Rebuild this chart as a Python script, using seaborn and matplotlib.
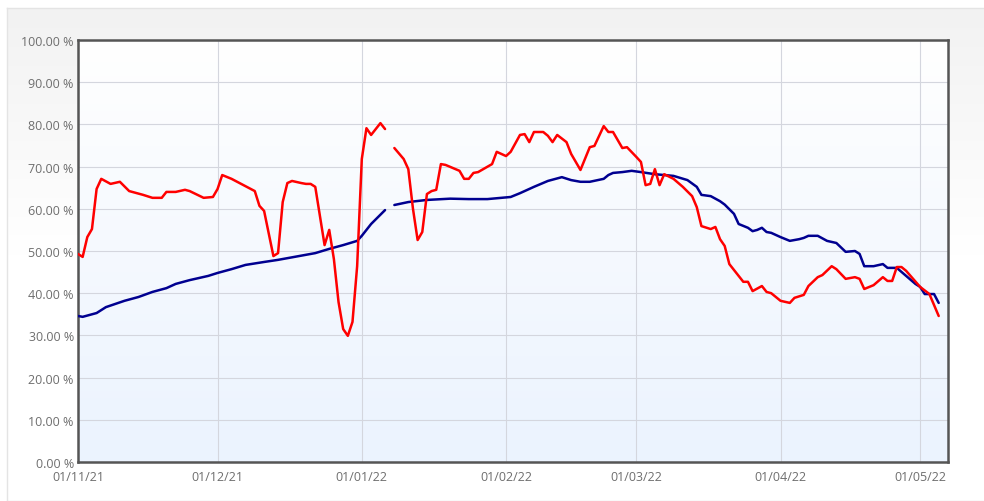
import numpy as np
import pandas as pd
import seaborn as sns
import matplotlib.pyplot as plt
import matplotlib.dates as mdates
from matplotlib.colors import LinearSegmentedColormap

# values (days counted from 01/11/21, value in %)
red_days = [0, 1, 2, 3, 4, 5, 7, 9, 11, 14, 16, 18, 19, 21, 23, 24, 27, 29, 30, 31,
            33, 38, 39, 40, 42, 43, 44, 45, 46, 48, 49, 50, 51, 53, 54, 55, 56, 57, 58, 59,
            60, 61, 62, 63, 65, 66, 67, 68, 70, 71, 72, 73, 74, 75, 76, 77, 78, 79, 82, 83,
            84, 85, 86, 89, 90, 92, 93, 95, 96, 97, 98, 100, 101, 102, 103, 105, 106, 108, 110, 111,
            113, 114, 115, 117, 118, 120, 121, 122, 123, 124, 125, 126, 128, 130, 132, 133, 134, 136, 137, 138,
            139, 140, 143, 144, 145, 147, 148, 149, 151, 153, 154, 156, 157, 159, 160, 162, 163, 165, 167, 168,
            169, 171, 173, 174, 175, 176, 177, 178, 181, 183, 185]
red_vals = [49.3, 48.6, 53.3, 55.2, 64.7, 67.1, 65.9, 66.4, 64.2, 63.3, 62.6, 62.6, 64.0, 64.0, 64.5, 64.2, 62.6, 62.8, 64.7, 68.0,
            67.1, 64.2, 60.7, 59.5, 48.8, 49.5, 61.6, 66.1, 66.6, 66.1, 65.9, 65.9, 65.2, 51.4, 55.0, 48.1, 37.9, 31.5, 29.9, 33.2,
            46.4, 71.8, 79.1, 77.5, 80.3, 78.9, np.nan, 74.4, 71.8, 69.4, 60.0, 52.6, 54.5, 63.5, 64.2, 64.5, 70.6, 70.4, 69.0, 67.1,
            67.1, 68.5, 68.7, 70.6, 73.5, 72.5, 73.5, 77.5, 77.7, 75.8, 78.2, 78.2, 77.3, 75.8, 77.5, 75.8, 73.0, 69.2, 74.6, 74.9,
            79.6, 78.2, 78.2, 74.4, 74.6, 72.3, 71.1, 65.6, 65.9, 69.4, 65.6, 68.2, 67.1, 65.2, 63.0, 60.4, 55.9, 55.2, 55.7, 52.8,
            51.2, 46.9, 42.7, 42.7, 40.5, 41.7, 40.3, 40.0, 38.2, 37.7, 38.9, 39.6, 41.7, 43.8, 44.3, 46.4, 45.7, 43.4, 43.8, 43.4,
            41.0, 41.9, 43.8, 42.9, 42.9, 46.2, 46.2, 45.3, 41.5, 39.8, 34.6]

blue_days = [0, 1, 4, 6, 10, 13, 16, 19, 21, 24, 28, 30, 33, 36, 40, 43, 45, 49, 51, 54,
             57, 60, 61, 63, 66, 67, 68, 71, 75, 80, 84, 88, 91, 93, 95, 97, 98, 101, 104, 106,
             108, 110, 113, 114, 115, 117, 119, 121, 124, 128, 131, 133, 134, 136, 138, 139, 141, 142, 144, 145,
             146, 147, 148, 149, 151, 153, 155, 156, 157, 159, 161, 163, 165, 167, 168, 169, 171, 173, 174, 176,
             178, 180, 181, 182, 184, 185]
blue_vals = [34.6, 34.4, 35.3, 36.7, 38.2, 39.1, 40.3, 41.2, 42.2, 43.1, 44.1, 44.8, 45.7, 46.7, 47.4, 47.9, 48.3, 49.1, 49.5, 50.5,
             51.4, 52.4, 53.6, 56.4, 59.7, np.nan, 60.9, 61.6, 62.1, 62.4, 62.3, 62.3, 62.6, 62.8, 63.7, 64.7, 65.2, 66.6, 67.5, 66.8,
             66.4, 66.4, 67.1, 68.0, 68.5, 68.7, 69.0, 68.7, 68.2, 67.8, 66.8, 65.2, 63.3, 63.0, 61.8, 61.0, 58.8, 56.4, 55.5, 54.7,
             55.0, 55.5, 54.5, 54.3, 53.3, 52.4, 52.8, 53.1, 53.6, 53.6, 52.4, 51.9, 49.8, 50.0, 49.3, 46.4, 46.4, 46.9, 46.0, 46.0,
             44.1, 42.2, 41.5, 39.8, 39.8, 37.7]

start = pd.Timestamp('2021-11-01')


def to_frame(days, vals, name):
    d = pd.DataFrame({'date': start + pd.to_timedelta(days, unit='D'), 'value': vals})
    d['series'] = name
    # split into segments at the missing value so the line breaks there
    d['segment'] = d['value'].isna().cumsum()
    return d.dropna()


df = pd.concat([to_frame(red_days, red_vals, 'red'), to_frame(blue_days, blue_vals, 'blue')])

sns.set_style('white')
plt.rcParams['font.family'] = ['Open Sans', 'DejaVu Sans']

fig = plt.figure(figsize=(9.84, 5.02), dpi=100, facecolor='white')

# card behind the chart: light grey at the top fading to white
bg = fig.add_axes([7 / 984, 0, 1, 1 - 9 / 502])
bg.imshow(np.linspace(0, 1, 256).reshape(-1, 1), extent=[0, 1, 0, 1], aspect='auto',
          cmap=LinearSegmentedColormap.from_list('card', ['#f2f2f2', '#ffffff', '#ffffff']))
bg.set_xticks([])
bg.set_yticks([])
for s in bg.spines.values():
    s.set_color('#e4e4e4')
    s.set_linewidth(1)

ax = fig.add_axes([78 / 984, 39 / 502, 870 / 984, 422 / 502])

# plot background gradient: white on top, pale blue at the bottom
ax.imshow(np.linspace(0, 1, 256).reshape(-1, 1), extent=[0, 1, 0, 1], transform=ax.transAxes,
          aspect='auto', cmap=LinearSegmentedColormap.from_list('bg', ['#ffffff', '#ebf3fe']),
          zorder=0, origin='upper')

sns.lineplot(data=df, x='date', y='value', hue='series', units='segment', estimator=None,
             palette={'red': '#ff0000', 'blue': '#000090'}, hue_order=['blue', 'red'],
             linewidth=1.8, legend=False, ax=ax, zorder=3)

ax.set_xlim(start, start + pd.Timedelta(days=187))
ax.set_ylim(0, 100)
ax.set_yticks(np.arange(0, 101, 10))
ax.yaxis.set_major_formatter(plt.FuncFormatter(lambda v, p: f'{v:.2f} %'))
ax.xaxis.set_major_locator(mdates.MonthLocator())
ax.xaxis.set_major_formatter(mdates.DateFormatter('%d/%m/%y'))
ax.grid(True, color='#d4d6de', lw=0.8, zorder=1)
ax.set_axisbelow(True)
ax.tick_params(colors='#6e6e6e', labelsize=9, length=0, pad=3)
ax.tick_params(axis='x', pad=6)
for s in ax.spines.values():
    s.set_color('#555555')
    s.set_linewidth(1.8)
ax.set_xlabel('')
ax.set_ylabel('')

fig.savefig('out.png', dpi=100)
